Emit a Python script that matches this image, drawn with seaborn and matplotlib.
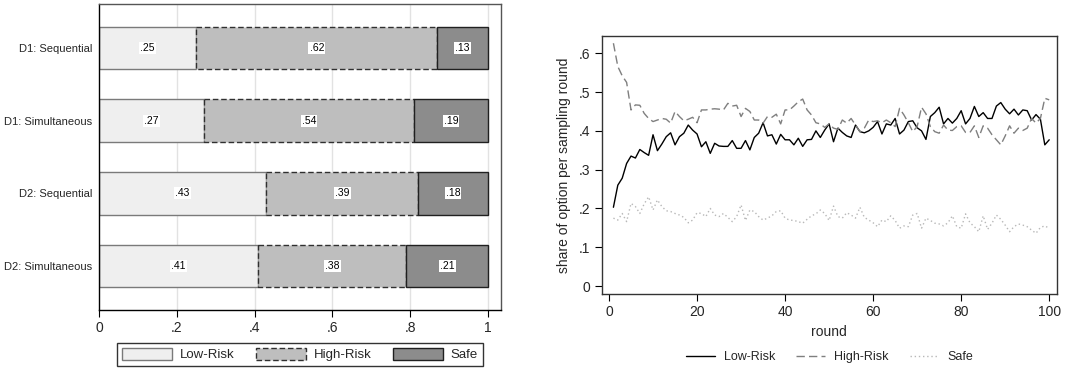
import numpy as np
import pandas as pd
import matplotlib
matplotlib.use("Agg")
import matplotlib.pyplot as plt
import seaborn as sns
from matplotlib.patches import Patch
from matplotlib.lines import Line2D

# ---------------- data ----------------
categories = ["D1: Sequential", "D1: Simultaneous", "D2: Sequential", "D2: Simultaneous"]
options = ["Low-Risk", "High-Risk", "Safe"]
low_share = [0.25, 0.27, 0.43, 0.41]
high_share = [0.62, 0.54, 0.39, 0.38]
safe_share = [0.13, 0.19, 0.18, 0.21]
bar_labels_low = [".25", ".27", ".43", ".41"]
bar_labels_high = [".62", ".54", ".39", ".38"]
bar_labels_safe = [".13", ".19", ".18", ".21"]

rounds = list(range(1, 101))
low_risk = [.203, .260, .278, .316, .335, .330, .352, .344, .337, .390,
            .349, .366, .385, .395, .364, .385, .394, .415, .402, .392,
            .359, .372, .342, .368, .361, .360, .360, .375, .355, .355,
            .375, .351, .383, .394, .421, .387, .390, .366, .391, .377,
            .377, .364, .381, .360, .377, .378, .400, .383, .402, .418,
            .372, .407, .396, .387, .383, .415, .398, .395, .400, .409,
            .424, .392, .418, .415, .432, .392, .402, .424, .426, .408,
            .400, .378, .437, .447, .461, .418, .432, .420, .432, .452,
            .418, .432, .463, .437, .447, .432, .432, .464, .473, .456,
            .444, .456, .441, .454, .452, .428, .442, .430, .364, .377]
high_risk = [.626, .566, .542, .525, .454, .467, .466, .445, .432, .424,
             .428, .432, .430, .420, .450, .437, .426, .430, .435, .421,
             .454, .454, .456, .457, .456, .454, .471, .464, .466, .437,
             .458, .450, .428, .428, .420, .437, .435, .443, .418, .454,
             .454, .464, .475, .482, .454, .441, .421, .418, .409, .418,
             .407, .404, .428, .420, .432, .415, .398, .407, .428, .424,
             .426, .421, .428, .421, .411, .458, .441, .421, .398, .411,
             .461, .444, .411, .398, .394, .415, .402, .401, .411, .413,
             .396, .396, .413, .383, .413, .407, .390, .377, .364, .387,
             .413, .394, .407, .401, .407, .432, .420, .432, .484, .480]
safe = [.175, .170, .187, .166, .213, .205, .187, .212, .230, .196,
        .222, .205, .194, .192, .187, .183, .177, .163, .170, .189,
        .187, .179, .200, .183, .179, .187, .177, .166, .179, .209,
        .169, .196, .192, .179, .170, .175, .181, .192, .194, .175,
        .170, .169, .166, .162, .172, .181, .186, .196, .187, .169,
        .206, .179, .175, .189, .183, .175, .203, .177, .170, .163,
        .153, .170, .166, .181, .169, .149, .155, .153, .183, .187,
        .149, .175, .169, .162, .160, .155, .163, .181, .153, .149,
        .186, .163, .153, .140, .181, .146, .162, .183, .172, .157,
        .140, .153, .160, .157, .153, .144, .136, .151, .155, .149]

x_ticks = [0, 0.2, 0.4, 0.6, 0.8, 1.0]
x_tick_labels = ["0", ".2", ".4", ".6", ".8", "1"]
r_xticks = [0, 20, 40, 60, 80, 100]
r_yticks = [0, 0.1, 0.2, 0.3, 0.4, 0.5, 0.6]
r_ytick_labels = ["0", ".1", ".2", ".3", ".4", ".5", ".6"]

# ---------------- style ----------------
sns.set_theme(style="white")
plt.rcParams["font.family"] = ["Liberation Sans", "DejaVu Sans"]

fig = plt.figure(figsize=(10.78, 3.71), dpi=100)

# ---------------- left: stacked bars ----------------
axL = fig.add_axes([99 / 1078, 1 - 310 / 371, 402 / 1078, 306 / 371])
ypos = np.arange(len(categories))
h = 0.59

fills = {"Low-Risk": "#efefef", "High-Risk": "#bebebe", "Safe": "#8c8c8c"}
edges = {"Low-Risk": "#7a7a7a", "High-Risk": "#303030", "Safe": "#202020"}
styles = {"Low-Risk": "-", "High-Risk": (0, (4, 2)), "Safe": "-"}

for xg in x_ticks[1:]:
    axL.axvline(xg, color="#e2e2e2", lw=1.0, zorder=0)

series = [("Low-Risk", low_share, bar_labels_low),
          ("High-Risk", high_share, bar_labels_high),
          ("Safe", safe_share, bar_labels_safe)]
left = np.zeros(len(categories))
for name, vals, labs in series:
    vals = np.array(vals)
    axL.barh(ypos, vals, left=left, height=h, color=fills[name],
             edgecolor=edges[name], linestyle=styles[name], linewidth=1.0, zorder=2)
    for yi, (l, v, t) in enumerate(zip(left, vals, labs)):
        axL.text(l + v / 2, yi, t, ha="center", va="center", fontsize=7.5,
                 color="black", zorder=4,
                 bbox=dict(facecolor="white", edgecolor="none", pad=0.8))
    left = left + vals

axL.set_xlim(0, 1.0335)
axL.set_ylim(3.605, -0.605)
axL.set_yticks(ypos)
axL.set_yticklabels(categories, fontsize=8)
axL.set_xticks(x_ticks)
axL.set_xticklabels(x_tick_labels, fontsize=10)
axL.tick_params(axis="x", direction="out", length=5, width=0.8, color="black", pad=3, bottom=True)
axL.tick_params(axis="y", length=0, pad=5)
for s in ["left", "bottom"]:
    axL.spines[s].set_color("black")
    axL.spines[s].set_linewidth(1.0)
for s in ["top", "right"]:
    axL.spines[s].set_color("#555555")
    axL.spines[s].set_linewidth(1.0)

handlesL = [Patch(facecolor=fills[n], edgecolor=edges[n], linestyle=styles[n], linewidth=1.0, label=n)
            for n in options]
legL = fig.legend(handles=handlesL, loc="center", bbox_to_anchor=(300 / 1078, 1 - 354.5 / 371),
                  ncol=3, fontsize=9.5, frameon=True, fancybox=False, edgecolor="black",
                  handlelength=3.8, handleheight=1.0, handletextpad=0.6, columnspacing=1.6,
                  borderpad=0.35, borderaxespad=0.3)
legL.get_frame().set_linewidth(1.0)

# ---------------- right: lines ----------------
axR = fig.add_axes([601.7 / 1078, 1 - 294 / 371, 455 / 1078, 258.3 / 371])
df = pd.DataFrame({"round": rounds * 3,
                   "share": low_risk + high_risk + safe,
                   "option": ["Low-Risk"] * 100 + ["High-Risk"] * 100 + ["Safe"] * 100})
line_colors = {"Low-Risk": "black", "High-Risk": "#7f7f7f", "Safe": "#b8b8b8"}
line_dash = {"Low-Risk": "", "High-Risk": (6, 3), "Safe": (1, 2)}
sns.lineplot(data=df, x="round", y="share", hue="option", style="option",
             palette=line_colors, dashes=line_dash, linewidth=1.0, ax=axR, legend=False)

axR.set_xlim(-1.66, 101.7)
axR.set_ylim(-0.0206, 0.6454)
axR.set_xticks(r_xticks)
axR.set_xticklabels([str(v) for v in r_xticks], fontsize=10)
axR.set_yticks(r_yticks)
axR.set_yticklabels(r_ytick_labels, fontsize=10)
axR.tick_params(axis="both", direction="out", length=5, width=0.8, color="black",
                left=True, bottom=True, pad=3)
axR.set_xlabel("round", fontsize=10, labelpad=4)
axR.set_ylabel("share of option per sampling round", fontsize=10, labelpad=6)
for s in axR.spines.values():
    s.set_color("#333333")
    s.set_linewidth(1.0)

handlesR = [Line2D([0], [0], color="black", lw=1.0, label="Low-Risk"),
            Line2D([0], [0], color="#7f7f7f", lw=1.0, dashes=(6, 3), label="High-Risk"),
            Line2D([0], [0], color="#b8b8b8", lw=1.0, dashes=(1, 2), label="Safe")]
fig.legend(handles=handlesR, loc="center", bbox_to_anchor=(829.5 / 1078, 1 - 357 / 371),
           ncol=3, fontsize=9, frameon=False, handlelength=2.3, handletextpad=0.7,
           columnspacing=1.7)

fig.savefig("out.png", dpi=100)
